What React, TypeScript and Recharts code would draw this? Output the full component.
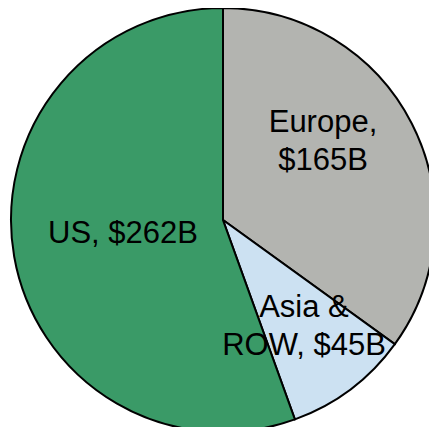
import { Pie, PieChart, Cell } from 'recharts';

const REGIONS = ['Europe', 'Asia & ROW', 'US'];
const REVENUE = [165, 45, 262];
const LABEL_LINES = [
  ['Europe,', '$165B'],
  ['Asia &', 'ROW, $45B'],
  ['US, $262B'],
];
const COLORS = ['#B3B4B0', '#CCE1F2', '#3A9A67'];
// label offsets from pie centre (first baseline)
const LABEL_OFFSETS = [
  { dx: 100, dy: -88 },
  { dx: 81, dy: 97 },
  { dx: -100, dy: 23 },
];

const data = REGIONS.map((name, i) => ({ name, value: REVENUE[i] }));

const renderLabel = (props: any) => {
  const { cx, cy, index } = props;
  const off = LABEL_OFFSETS[index];
  const lines = LABEL_LINES[index];
  return (
    <g>
      {index === 2 && <polygon points={`0,${cy + 16} 7,${cy + 20} 0,${cy + 24}`} fill="#2E75B6" />}
      <text
        x={cx + off.dx}
        y={cy + off.dy}
        textAnchor="middle"
        fill="#000"
        fontSize={31}
        fontFamily="'Liberation Sans', Arial, sans-serif"
      >
        {lines.map((line, j) => (
          <tspan key={j} x={cx + off.dx} dy={j === 0 ? 0 : 38}>
            {line}
          </tspan>
        ))}
      </text>
    </g>
  );
};

const App = () => {
  return (
    <div style={{ margin: -8, width: 437, height: 435, background: '#fff' }}>
      <PieChart width={437} height={435} margin={{ top: 0, right: 0, bottom: 0, left: 0 }}>
        <Pie
          data={data}
          dataKey="value"
          nameKey="name"
          cx={223}
          cy={220}
          outerRadius={212}
          startAngle={90}
          endAngle={-270}
          stroke="#000"
          strokeWidth={2}
          label={renderLabel}
          labelLine={false}
          isAnimationActive={false}
        >
          {data.map((d, i) => (
            <Cell key={d.name} fill={COLORS[i]} />
          ))}
        </Pie>
      </PieChart>
    </div>
  );
};

export default App;
